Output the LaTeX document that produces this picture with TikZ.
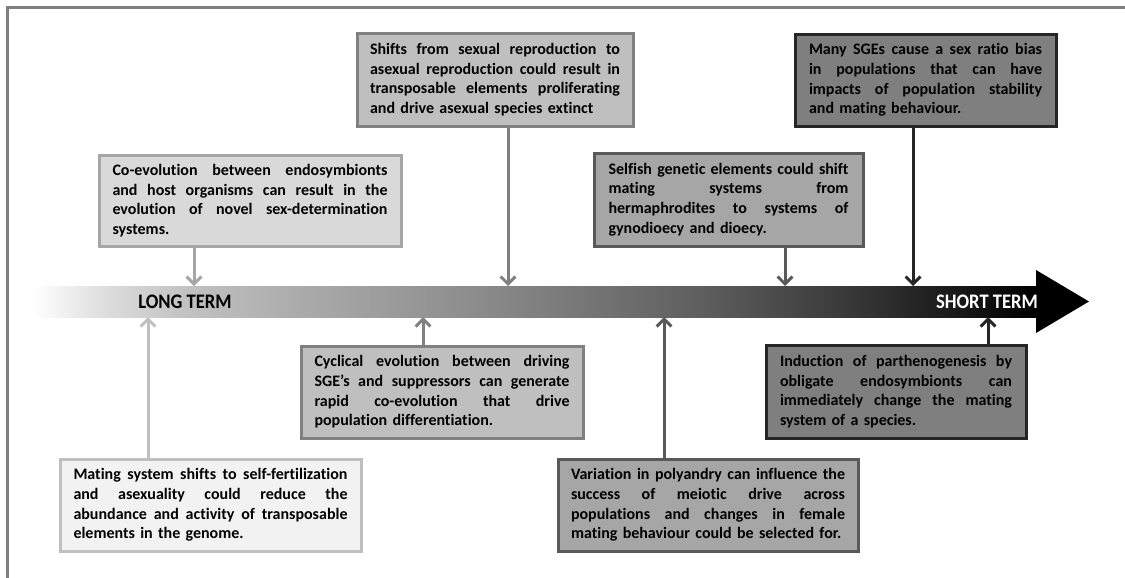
\documentclass[tikz,border=0pt]{standalone}
\usepackage{fontspec}
\setmainfont{Carlito}[Ligatures=CommonOff]
\usetikzlibrary{arrows.meta}
\definecolor{fa}{HTML}{F2F2F2}
\definecolor{fb}{HTML}{D9D9D9}
\definecolor{fc}{HTML}{BFBFBF}
\definecolor{fd}{HTML}{A6A6A6}
\definecolor{fe}{HTML}{7F7F7F}
\definecolor{da}{HTML}{BFBFBF}
\definecolor{db}{HTML}{A6A6A6}
\definecolor{dc}{HTML}{808080}
\definecolor{dd}{HTML}{595959}
\definecolor{de}{HTML}{262626}
\definecolor{framec}{HTML}{7F7F7F}
\pgfdeclarehorizontalshading{timeline}{100bp}{color(0bp)=(white); color(25bp)=(white); color(28.8bp)=(black!14); color(32.6bp)=(black!24); color(38.3bp)=(black!33); color(48.3bp)=(black!47); color(58.2bp)=(black!63); color(65.7bp)=(black!78); color(75bp)=(black); color(100bp)=(black)}
\newcommand{\JL}[1]{{\spaceskip=0pt\xspaceskip=0pt\makebox[\hsize][s]{#1}}\\}
\newcommand{\LL}[1]{\mbox{#1}}
\tikzset{
  box/.style={draw, line width=2.25pt, inner sep=0pt, align=left, text=black,
    font=\bfseries\fontsize{12}{14.7}\selectfont},
  conn/.style={line width=2.25pt, -{Straight Barb[length=5.5pt,width=11pt]}},
  lbl/.style={inner sep=0pt, font=\bfseries\fontsize{15.5}{17}\selectfont},
  frameline/.style={draw=framec, line width=2.25pt},
}
\begin{document}
\begin{tikzpicture}[x=0.75pt,y=-0.75pt]
\useasboundingbox (0,0) rectangle (1125,578);
\fill[white] (0,0) rectangle (1125,578);
\draw[frameline] (7.5,578) -- (7.5,7.5) -- (1125,7.5);

% timeline
\node[inner sep=0pt, minimum width=753pt, minimum height=23.25pt, shading=timeline] (shaft) at (535,301.5) {};
\fill[black] (1036,270) -- (1089,301.5) -- (1036,333) -- cycle;
\node[lbl] (lt) at (185,302) {\scalebox{0.9}[1]{LONG TERM}};
\node[lbl, text=white] (st) at (987,302) {\scalebox{0.9}[1]{SHORT TERM}};

% boxes above
\node[box, fill=fb, draw=db, text width=206.25pt, minimum width=226.5pt, minimum height=68.25pt] (b1) at (250,200.5) {%
\JL{Co-evolution between endosymbionts}
\JL{and host organisms can result in the}
\JL{evolution of novel sex-determination}
\LL{systems.}};
\node[box, fill=fc, draw=dc, text width=187.5pt, minimum width=207pt, minimum height=69.75pt] (b2) at (495,79.5) {%
\JL{Shifts from sexual reproduction to}
\JL{asexual reproduction could result in}
\JL{transposable elements proliferating}
\LL{and drive asexual species extinct}};
\node[box, fill=fd, draw=dd, text width=180pt, minimum width=201.75pt, minimum height=69.75pt] (b3) at (728.5,199.5) {%
\JL{Selfish genetic elements could shift}
\JL{mating systems from}
\JL{hermaphrodites to systems of}
\LL{gynodioecy and dioecy.}};
\node[box, fill=fe, draw=de, text width=174.75pt, minimum width=195.75pt, minimum height=69pt] (b4) at (925.5,80) {%
\JL{Many SGEs cause a sex ratio bias}
\JL{in populations that can have}
\JL{impacts of population stability}
\LL{and mating behaviour.}};

% boxes below
\node[box, fill=fc, draw=dc, text width=191.25pt, minimum width=211.5pt, minimum height=69pt] (b5) at (442,392) {%
\JL{Cyclical evolution between driving}
\JL{SGE’s and suppressors can generate}
\JL{rapid co-evolution that drive}
\LL{population differentiation.}};
\node[box, fill=fe, draw=de, text width=174pt, minimum width=195pt, minimum height=69.75pt] (b6) at (896,391.5) {%
\JL{Induction of parthenogenesis by}
\JL{obligate endosymbionts can}
\JL{immediately change the mating}
\LL{system of a species.}};
\node[box, fill=fa, draw=da, text width=205.5pt, minimum width=225.75pt, minimum height=69pt] (b7) at (210.5,505) {%
\JL{Mating system shifts to self-fertilization}
\JL{and asexuality could reduce the}
\JL{abundance and activity of transposable}
\LL{elements in the genome.}};
\node[box, fill=fd, draw=dd, text width=205.5pt, minimum width=225pt, minimum height=69pt] (b8) at (708,505) {%
\JL{Variation in polyandry can influence the}
\JL{success of meiotic drive across}
\JL{populations and changes in female}
\LL{mating behaviour could be selected for.}};

% connector ends on the timeline
\coordinate (a1) at (194,286);
\coordinate (a2) at (508,286);
\coordinate (a3) at (785,286);
\coordinate (a4) at (913,286);
\coordinate (a5) at (423,317);
\coordinate (a6) at (988,317);
\coordinate (a7) at (148,317);
\coordinate (a8) at (664,317);

\draw[conn, draw=db] (b1.south -| a1) -- (a1);
\draw[conn, draw=dc] (b2.south -| a2) -- (a2);
\draw[conn, draw=dd] (b3.south -| a3) -- (a3);
\draw[conn, draw=de] (b4.south -| a4) -- (a4);
\draw[conn, draw=dc] (b5.north -| a5) -- (a5);
\draw[conn, draw=de] (b6.north -| a6) -- (a6);
\draw[conn, draw=da] (b7.north -| a7) -- (a7);
\draw[conn, draw=dd] (b8.north -| a8) -- (a8);
\end{tikzpicture}
\end{document}
